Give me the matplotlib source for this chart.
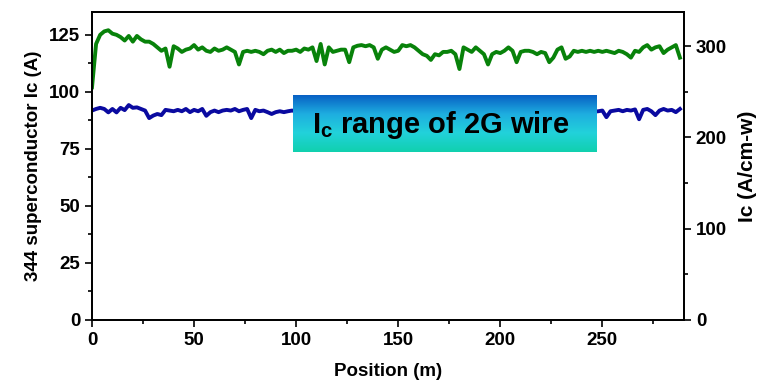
import numpy as np
import matplotlib
matplotlib.use("Agg")
import matplotlib.pyplot as plt
from matplotlib.ticker import MultipleLocator
from matplotlib.colors import LinearSegmentedColormap

plt.rcParams['font.family'] = ['Liberation Sans', 'DejaVu Sans']
plt.rcParams['font.weight'] = 'bold'
plt.rcParams['mathtext.fontset'] = 'custom'
plt.rcParams['mathtext.rm'] = 'Liberation Sans:bold'
plt.rcParams['mathtext.it'] = 'Liberation Sans:bold'
plt.rcParams['mathtext.bf'] = 'Liberation Sans:bold'

# Position along the wire (m), sampled every 2 m
position = np.arange(0, 289, 2)

# Upper (green) trace, Ic (A)
ic_green = [
    102, 121, 125, 126.5, 127, 125.5, 125, 124, 122.5, 124.5,
    122, 124.5, 123, 122, 122, 121, 119.5, 118, 119, 111,
    120, 119, 117.5, 118.5, 119, 120.5, 118.5, 119.5, 118, 117.5,
    119, 118, 118.5, 119.5, 118.5, 117.5, 112, 117.5, 118, 117.5,
    118, 117.5, 116.5, 118, 118.5, 117.5, 118.5, 117, 118, 118,
    118.5, 117.5, 119, 118.5, 119.5, 113.5, 121, 112, 119.5, 117.5,
    118, 118.5, 118.5, 113, 119.5, 120.2, 120.5, 120, 120.5, 119.5,
    114.5, 118.5, 119.5, 118.5, 117.5, 118, 120.5, 120, 120.5, 119.5,
    118, 116.5, 115.8, 114, 116.5, 116, 117.5, 117.5, 118, 116.5,
    110, 119.5, 118.5, 117.5, 119.5, 118, 116.5, 112, 116.5, 117.5,
    117, 118, 119.5, 118, 113, 117.5, 118, 118, 117.5, 116.5,
    117.5, 117, 113, 115, 118.5, 119.5, 114.5, 115.5, 118, 117.5,
    118, 117.5, 118, 117.5, 118, 117.5, 118, 117.5, 117, 118,
    117.5, 116.5, 115, 118, 117.5, 119.5, 120.5, 118.5, 119.5, 120,
    117, 118.5, 119.5, 120.5, 115,
]

# Lower (blue) trace, Ic (A)
ic_blue = [
    91.8, 92.5, 93.0, 92.5, 91.0, 92.5, 91.0, 93.0, 92.0, 94.2,
    93.0, 93.2, 92.5, 91.8, 88.5, 89.6, 90.3, 89.8, 92.1, 91.8,
    91.5, 92.1, 91.5, 92.5, 91.1, 92.1, 91.5, 92.5, 89.5, 91.1,
    91.8, 91.1, 91.8, 92.1, 91.8, 92.5, 91.5, 92.1, 92.5, 88.5,
    92.1, 91.5, 91.8, 91.1, 90.3, 91.1, 91.5, 91.1, 91.5, 91.8,
    91.5, 92.0, 91.2, 91.8, 92.3, 91.0, 91.6, 92.1, 91.4, 90.8,
    91.9, 92.2, 91.3, 91.7, 92.4, 91.1, 91.5, 92.0, 91.6, 90.5,
    91.8, 92.1, 91.4, 91.9, 91.2, 91.7, 92.3, 91.0, 91.5, 91.9,
    92.2, 91.4, 91.1, 91.8, 92.0, 91.3, 91.6, 92.1, 91.5, 90.6,
    91.7, 92.0, 91.4, 91.9, 91.2, 91.6, 92.2, 91.3, 91.8, 91.5,
    92.0, 91.1, 91.7, 92.3, 91.4, 91.0, 91.8, 92.1, 91.5, 91.9,
    91.2, 91.6, 92.0, 91.3, 91.8, 91.5, 92.1, 91.4, 91.0, 91.7,
    92.2, 91.5, 91.8, 91.3,
    91.5, 91.8, 88.9, 91.5, 91.8, 92.1, 91.5, 92.1, 91.8, 92.3,
    88.0, 92.1, 92.5, 91.5, 89.8, 91.8, 92.5, 91.8, 92.1, 91.1, 92.5,
]

left_ticks = [0, 25, 50, 75, 100, 125]
right_ticks = [0, 100, 200, 300]
x_ticks = [0, 50, 100, 150, 200, 250]

fig = plt.figure(figsize=(7.62, 3.83), dpi=100)
ax = fig.add_axes([92/762, 63/383, 592/762, 308/383])

ax.plot(position, ic_green, color='#08820A', lw=2.8, solid_joinstyle='round')
ax.plot(position, ic_blue, color='#0A0AA0', lw=2.8, solid_joinstyle='round')

ax.set_xlim(0, 290)
ax.set_ylim(0, 135)
ax.set_xticks(x_ticks)
ax.set_yticks(left_ticks)
ax.xaxis.set_minor_locator(MultipleLocator(25))
ax.yaxis.set_minor_locator(MultipleLocator(12.5))
ax.tick_params(which='both', direction='out', width=1.2, labelsize=13.5, top=False, right=False)
ax.tick_params(which='major', length=5)
ax.tick_params(which='minor', length=3)
for lab in ax.get_xticklabels() + ax.get_yticklabels():
    lab.set_fontweight('bold')
for s in ax.spines.values():
    s.set_linewidth(1.3)
ax.set_xlabel('Position (m)', fontsize=13.5, fontweight='bold', labelpad=10)
ax.set_ylabel('344 superconductor Ic (A)', fontsize=13.5, fontweight='bold', labelpad=5)

ax2 = ax.twinx()
ax2.set_ylim(0, 337.5)
ax2.set_yticks(right_ticks)
ax2.yaxis.set_minor_locator(MultipleLocator(50))
ax2.tick_params(which='both', direction='out', width=1.2, labelsize=13.5)
ax2.tick_params(which='major', length=5)
ax2.tick_params(which='minor', length=3)
for lab in ax2.get_yticklabels():
    lab.set_fontweight('bold')
for s in ax2.spines.values():
    s.set_linewidth(1.3)
ax2.set_ylabel('Ic (A/cm-w)', fontsize=15, fontweight='bold', labelpad=8)

# Gradient label box
box = fig.add_axes([293/762, (383-152)/383, 304/762, 57/383])
cmap = LinearSegmentedColormap.from_list('g', ['#0860C4', '#1EAEE0', '#22D2DA', '#10D0AE'])
grad = np.linspace(0, 1, 256).reshape(-1, 1)
box.imshow(grad, aspect='auto', cmap=cmap, extent=[0, 1, 0, 1], origin='upper')
box.set_xlim(0, 1)
box.set_ylim(0, 1)
box.axis('off')
box.text(0.485, 0.47, r'$I_c$ range of 2G wire', ha='center', va='center',
         fontsize=21, fontweight='bold', color='black', transform=box.transAxes)

fig.savefig('out.png', dpi=100)
